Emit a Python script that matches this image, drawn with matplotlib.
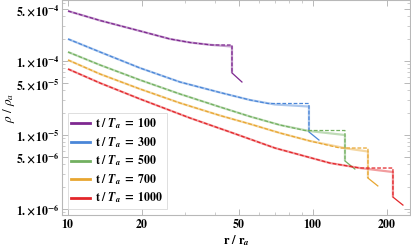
import matplotlib.pyplot as plt
import numpy as np
from matplotlib.ticker import FixedLocator, LogLocator, NullFormatter

plt.rcParams['mathtext.fontset'] = 'stix'
plt.rcParams['font.family'] = ['Liberation Serif', 'DejaVu Serif']

# times t / T_a
t_vals = [100, 300, 500, 700, 1000]
colors = ['#7E2890', '#4A86D8', '#72B060', '#E8A630', '#E3262A']

# density profiles inside the shell
r_100 = [10, 13.51, 19.68, 26.09, 31.48, 37.98, 46.71]
rho_100 = [4.737e-4, 3.526e-4, 2.543e-4, 1.983e-4, 1.778e-4, 1.655e-4, 1.570e-4]
r_300 = [10, 13.51, 19.68, 28.65, 41.73, 55.33, 69.96, 96.31]
rho_300 = [1.983e-4, 1.323e-4, 8.04e-5, 5.20e-5, 3.752e-5, 2.972e-5, 2.584e-5, 2.427e-5]
r_500 = [10, 13.51, 19.68, 28.65, 41.73, 55.33, 73.33, 96.31, 135.1]
rho_500 = [1.323e-4, 8.83e-5, 5.535e-5, 3.58e-5, 2.390e-5, 1.778e-5, 1.365e-5, 1.133e-5, 1.0e-5]
r_700 = [10, 13.51, 19.68, 28.65, 41.73, 55.33, 73.33, 97.23, 137.7, 167.7]
rho_700 = [1.031e-4, 6.67e-5, 4.183e-5, 2.706e-5, 1.834e-5, 1.408e-5, 1.064e-5, 8.30e-6,
           6.57e-6, 5.98e-6]
r_1000 = [10, 13.51, 19.68, 31.48, 45.84, 69.96, 117.3, 155.5, 212.1]
rho_1000 = [7.795e-5, 5.04e-5, 3.065e-5, 1.697e-5, 1.098e-5, 6.67e-6, 4.18e-6, 3.58e-6, 3.16e-6]
r_curves = [r_100, r_300, r_500, r_700, r_1000]
rho_curves = [rho_100, rho_300, rho_500, rho_700, rho_1000]

# shock front: plateau, jump and outer tail
r_flat_start = [38.7, 65.5, 92.75, 128.8, 155.5]
r_shock = [46.71, 96.31, 135.1, 167.7, 212.1]
rho_flat = [1.645e-4, 2.665e-5, 1.150e-5, 6.67e-6, 3.58e-6]
rho_drop = [6.9e-5, 1.10e-5, 4.46e-6, 2.62e-6, 1.45e-6]
r_tail = [51.3, 105.8, 148.3, 184, 233]
rho_tail = [5.2e-5, 8.55e-6, 3.47e-6, 2.05e-6, 1.13e-6]

fig = plt.figure(figsize=(4.11, 2.47), dpi=100)
ax = fig.add_axes([62 / 411, 32 / 247, 348 / 411, 215 / 247])

for i, t in enumerate(t_vals):
    c = colors[i]
    r = np.array(r_curves[i])
    rho = np.array(rho_curves[i])
    # numerical profile (light, solid)
    ax.plot(list(r) + [r_shock[i]], list(rho) + [rho_drop[i]],
            color=c, lw=1.6, alpha=0.45, solid_capstyle='butt')
    # analytic profile (dashed) with plateau and jump
    keep = r < r_flat_start[i]
    rd = list(r[keep]) + [r_flat_start[i], r_shock[i], r_shock[i]]
    yd = list(rho[keep]) + [rho_flat[i], rho_flat[i], rho_drop[i]]
    ax.plot(rd, yd, color=c, lw=0.9, ls=(0, (3, 1.5)))
    # outer tail
    ax.plot([r_shock[i], r_tail[i]], [rho_drop[i], rho_tail[i]], color=c, lw=0.9)
    # legend handle
    ax.plot([], [], color=c, lw=2,
            label=r'$\mathbf{t\ /\ }\mathbfit{T}_{\mathbfit{a}}\mathbf{\ =\ %d}$' % t)

ax.set_xscale('log')
ax.set_yscale('log')
ax.set_xlim(9.45, 249)
ax.set_ylim(8.3e-7, 6.67e-4)

xt = [10, 20, 50, 100, 200]
ax.xaxis.set_major_locator(FixedLocator(xt))
ax.set_xticklabels([r'$\mathbf{%d}$' % v for v in xt])
ax.xaxis.set_minor_locator(LogLocator(base=10, subs=np.arange(1, 10)))
ax.xaxis.set_minor_formatter(NullFormatter())

yt = [1e-6, 5e-6, 1e-5, 5e-5, 1e-4, 5e-4]
ylab = [r'$\mathbf{1.\!\times\!10^{-6}}$', r'$\mathbf{5.\!\times\!10^{-6}}$',
        r'$\mathbf{1.\!\times\!10^{-5}}$', r'$\mathbf{5.\!\times\!10^{-5}}$',
        r'$\mathbf{1.\!\times\!10^{-4}}$', r'$\mathbf{5.\!\times\!10^{-4}}$']
ax.yaxis.set_major_locator(FixedLocator(yt))
ax.set_yticklabels(ylab)
ax.yaxis.set_minor_locator(LogLocator(base=10, subs=np.arange(1, 10)))
ax.yaxis.set_minor_formatter(NullFormatter())

for s in ax.spines.values():
    s.set_color('#b8b8b8')
    s.set_linewidth(0.8)
ax.tick_params(which='both', direction='in', top=True, right=True,
               color='#b8b8b8', labelsize=8.5, pad=2)
ax.tick_params(which='major', length=4, width=0.7)
ax.tick_params(which='minor', length=2, width=0.5)

ax.set_xlabel(r'$\mathbf{r\ /\ r}_{\mathbfit{a}}$', fontsize=9, labelpad=2)
ax.set_ylabel(r'$\rho\ /\ \rho_a$', fontsize=9.5)
ax.yaxis.set_label_coords(-0.128, 0.5)

leg = ax.legend(loc='lower left', bbox_to_anchor=(0.017, 0.028), borderaxespad=0,
                fontsize=8.5, handlelength=1.6, handletextpad=0.4,
                labelspacing=0.35, frameon=True, fancybox=False,
                borderpad=0.3)
leg.get_frame().set_edgecolor('#d0d0d0')
leg.get_frame().set_linewidth(0.6)

fig.savefig('out.png', dpi=100)
